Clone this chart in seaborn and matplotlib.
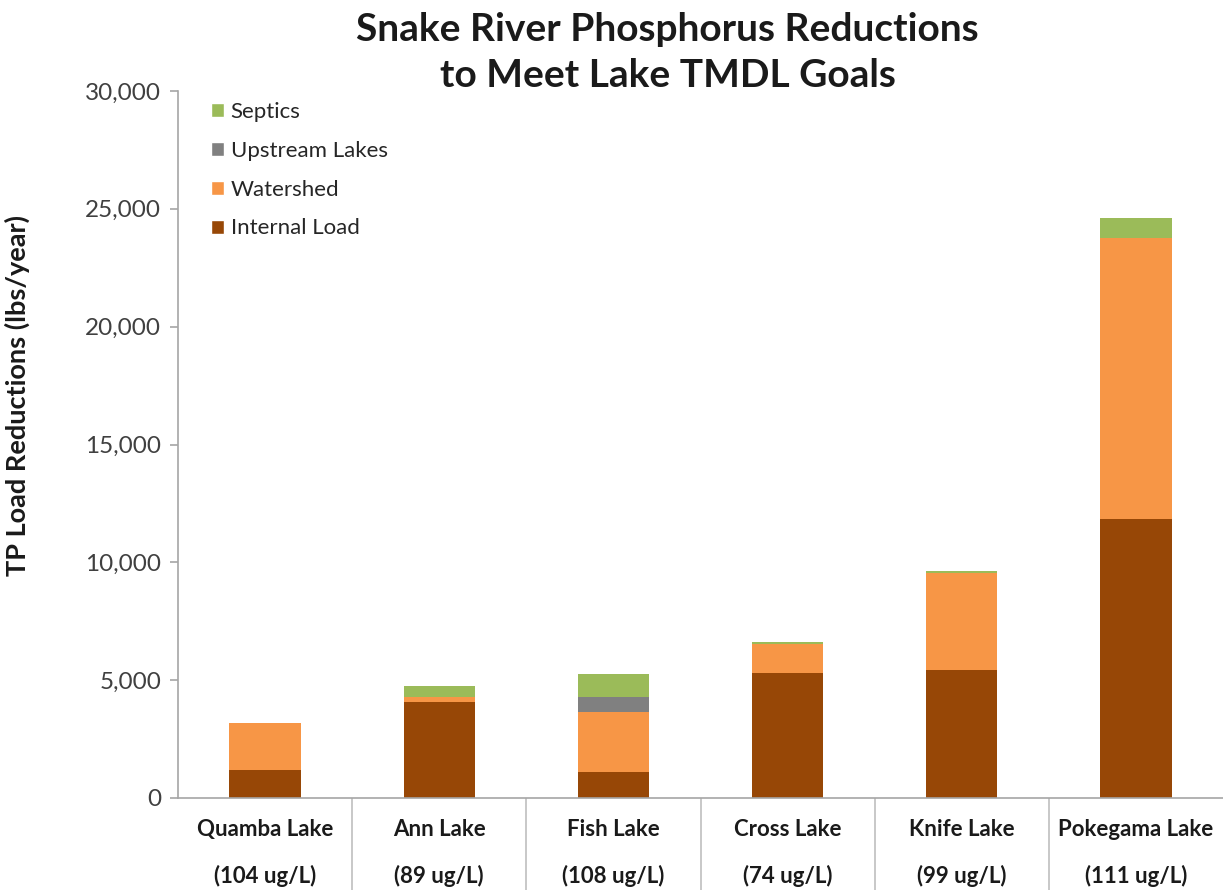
import matplotlib
matplotlib.use("Agg")
import matplotlib.pyplot as plt
import matplotlib.ticker as mticker
from matplotlib.patches import Patch
import numpy as np
import pandas as pd
import seaborn as sns

# Lakes and their TMDL in-lake phosphorus goals
lakes = ["Quamba Lake", "Ann Lake", "Fish Lake", "Cross Lake", "Knife Lake", "Pokegama Lake"]
goals = ["(104 ug/L)", "(89 ug/L)", "(108 ug/L)", "(74 ug/L)", "(99 ug/L)", "(111 ug/L)"]

# TP load reductions by source (lbs/year)
internal_load = [1190, 4060, 1120, 5310, 5430, 11830]
watershed = [2010, 240, 2540, 1220, 4130, 11950]
upstream_lakes = [0, 0, 640, 0, 0, 0]
septics = [0, 450, 950, 70, 70, 820]

sources = ["Internal Load", "Watershed", "Upstream Lakes", "Septics"]
colors = {"Internal Load": "#974706", "Watershed": "#F79646",
          "Upstream Lakes": "#808080", "Septics": "#9BBB59"}

sns.set_theme(style="white")
plt.rcParams["font.family"] = ["Lato", "DejaVu Sans"]

df = pd.DataFrame({"lake": lakes,
                   "Internal Load": internal_load,
                   "Watershed": watershed,
                   "Upstream Lakes": upstream_lakes,
                   "Septics": septics})
cum = df[sources].cumsum(axis=1)
cum["lake"] = df["lake"]

fig = plt.figure(figsize=(12.23, 8.90), dpi=100)
ax = fig.add_axes([178 / 1223, 1 - 798 / 890, 1 - 178 / 1223, (798 - 91) / 890])

# Stacked bars: draw cumulative totals from the top layer down
for src in reversed(sources):
    sns.barplot(data=cum, x="lake", y=src, color=colors[src], width=0.41,
                saturation=1, ax=ax, order=lakes, errorbar=None, linewidth=0)

ax.set_ylim(0, 30000)
ax.set_xlim(-0.5, len(lakes) - 0.5)
ax.yaxis.set_major_locator(mticker.MultipleLocator(5000))
ax.yaxis.set_major_formatter(mticker.FuncFormatter(lambda v, p: f"{int(v):,}"))

for s in ["top", "right"]:
    ax.spines[s].set_visible(False)
for s in ["left", "bottom"]:
    ax.spines[s].set_color("#A6A6A6")
    ax.spines[s].set_linewidth(1.2)

ax.tick_params(axis="y", which="major", left=True, length=6, width=1.2,
               color="#A6A6A6", labelsize=17.5, labelcolor="#404040", pad=6)

# Category labels with separator ticks between categories
ax.set_xticks(range(len(lakes)))
ax.set_xticklabels([f"{l}\n{g}" for l, g in zip(lakes, goals)],
                   fontsize=16, fontweight="bold", color="#1a1a1a", linespacing=2.4)
ax.tick_params(axis="x", which="major", length=0, pad=15)
ax.set_xticks(np.arange(0.5, len(lakes) - 0.5, 1), minor=True)
ax.tick_params(axis="x", which="minor", bottom=True, length=70, width=1.2,
               color="#BFBFBF", direction="out")

ax.set_xlabel("")
ax.set_ylabel("TP Load Reductions (lbs/year)", fontsize=19.5, fontweight="bold",
              color="#1a1a1a")
ax.yaxis.set_label_coords(-0.142, 0.57)

fig.text(0.546, 0.987, "Snake River Phosphorus Reductions\nto Meet Lake TMDL Goals",
         ha="center", va="top", fontsize=28, fontweight="bold", color="#1a1a1a",
         linespacing=1.4)

handles = [Patch(facecolor=colors[s], label=s) for s in reversed(sources)]
ax.legend(handles=handles, loc="upper left", bbox_to_anchor=(0.012, 1.013),
          frameon=False, fontsize=16, labelcolor="#262626",
          handlelength=0.6, handleheight=0.6, handletextpad=0.3, labelspacing=0.85)

fig.savefig("out.png", dpi=100, facecolor="white")
